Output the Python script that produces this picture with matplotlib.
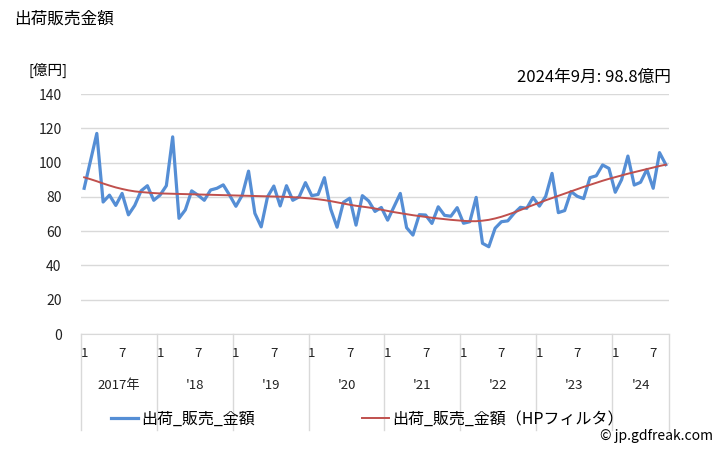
import matplotlib
matplotlib.use("Agg")
import matplotlib.pyplot as plt
import matplotlib.transforms as mtransforms
import numpy as np

plt.rcParams['font.family'] = ['Noto Sans CJK JP', 'DejaVu Sans']

title = "出荷販売金額"
unit_label = "[億円]"
note = "2024年9月: 98.8億円"
series_name = "出荷_販売_金額"
trend_name = "出荷_販売_金額（HPフィルタ）"
year_labels = ["2017年", "'18", "'19", "'20", "'21", "'22", "'23", "'24"]
month_tick_labels = ["1", "7"]

values = [
    85, 101, 117, 77, 81, 75, 82, 69.5, 75, 83.5, 86.5, 78,
    81, 86.5, 115, 67.5, 72.4, 83.5, 81, 78, 84, 85, 87, 81,
    74.5, 81, 95, 70.4, 62.5, 80, 86.3, 74.7, 86.5, 78, 80, 88.3,
    80.7, 81.4, 91.2, 72.8, 62.3, 76.8, 79.2, 63.5, 80.7, 77.6, 71.5, 73.8,
    66.4, 74.2, 82, 62, 57.7, 69.6, 69.4, 64.5, 74.2, 69.2, 68.7, 73.7,
    64.6, 65.5, 79.7, 52.9, 50.9, 61.7, 65.5, 66, 70.4, 73.9, 73.3, 79.7,
    74.6, 80.3, 93.7, 70.8, 72, 83.1, 80.3, 79, 91.2, 92.3, 98.6, 96.6,
    82.7, 90, 103.8, 86.9, 88.5, 96, 85, 105.8, 98.8,
]

trend = [
    91.4, 90.3, 89.1, 87.8, 86.6, 85.5, 84.6, 83.8, 83.2, 82.8, 82.5, 82.2,
    82.0, 81.9, 81.8, 81.7, 81.6, 81.5, 81.4, 81.3, 81.2, 81.1, 81.0, 80.9,
    80.8, 80.7, 80.6, 80.5, 80.4, 80.3, 80.2, 80.1, 80.0, 79.8, 79.6, 79.3,
    79.0, 78.6, 78.1, 77.5, 76.8, 76.1, 75.4, 74.8, 74.3, 73.8, 73.2, 72.5,
    71.8, 71.1, 70.5, 69.9, 69.3, 68.8, 68.3, 67.8, 67.4, 67.0, 66.6, 66.3,
    66.0, 65.8, 65.8, 66.1, 66.6, 67.4, 68.4, 69.6, 70.9, 72.3, 73.8, 75.2,
    76.6, 78.0, 79.3, 80.6, 81.9, 83.2, 84.5, 85.8, 87.0, 88.2, 89.4, 90.5,
    91.5, 92.5, 93.5, 94.4, 95.3, 96.2, 97.1, 98.0, 98.8,
]

n = len(values)
x = np.arange(n) + 0.5

fig = plt.figure(figsize=(7.28, 4.5), dpi=100)
ax = fig.add_axes([81 / 728, 1 - 334 / 450, (669 - 81) / 728, 240 / 450])

grid_color = "#d9d9d9"
ax.set_ylim(0, 140)
ax.set_xlim(0, n)
ax.set_yticks(np.arange(0, 141, 20))
ax.yaxis.grid(True, color=grid_color, linewidth=1)
ax.set_axisbelow(True)
for s in ["top", "right", "left"]:
    ax.spines[s].set_visible(False)
ax.spines["bottom"].set_color(grid_color)
ax.tick_params(axis="y", length=0, labelsize=10, pad=14, labelcolor="#222222")
ax.set_xticks([])

line1, = ax.plot(x, values, color="#558ed5", linewidth=2.3, solid_joinstyle="round")
line2, = ax.plot(x, trend, color="#c0504d", linewidth=1.4)

# month tick labels and year separators
trans = mtransforms.blended_transform_factory(ax.transData, ax.transAxes)
n_years = len(year_labels)
for k in range(n_years):
    start = 12 * k
    end = min(12 * (k + 1), n)
    for j, lab in zip([0, 6], month_tick_labels):
        if start + j < n:
            ax.text(start + j + 0.5, -0.08, lab, transform=trans, ha="center",
                    va="center", fontsize=9.5, color="#222222")
    ax.text((start + end) / 2, -0.215, year_labels[k], transform=trans,
            ha="center", va="center", fontsize=9.5, color="#222222")
seps = list(range(0, n, 12)) + [n]
for s in seps:
    ax.plot([s, s], [0, -0.4], transform=trans, color=grid_color,
            linewidth=1, clip_on=False)

fig.text(14 / 728, 1 - 19 / 450, title, fontsize=12, ha="left", va="center")
fig.text(28 / 728, 1 - 70 / 450, unit_label, fontsize=10.5, ha="left", va="center")
fig.text(671 / 728, 1 - 77 / 450, note, fontsize=12, ha="right", va="center")

leg = fig.legend([line1, line2], [series_name, trend_name], loc="center",
                 bbox_to_anchor=(367 / 728, 1 - 419 / 450), ncol=2, frameon=False,
                 fontsize=11.5, handlelength=1.7, columnspacing=6.7, handletextpad=0.2)
fig.text(713 / 728, 1 - 436 / 450, "© jp.gdfreak.com", fontsize=10, ha="right",
         va="center")

fig.savefig("out.png", dpi=100)
